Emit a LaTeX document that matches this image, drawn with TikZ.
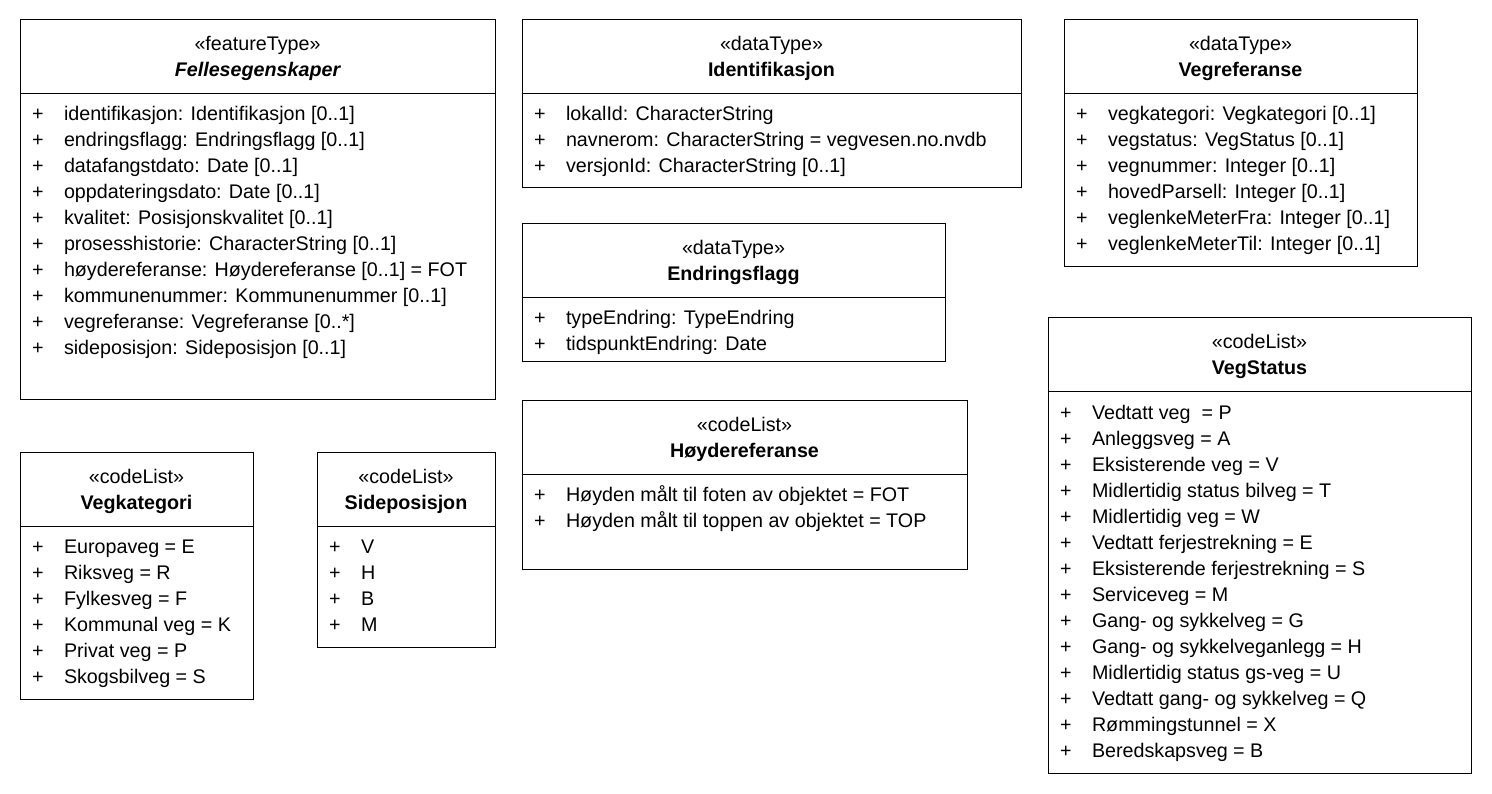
\documentclass[tikz,border=0pt]{standalone}
\usepackage{fontspec}
\setmainfont{Liberation Sans}
\newcommand{\fsz}{\fontsize{19.7}{24}\selectfont}
\newcommand{\umlbox}[8]{% name, x, y, w, h, stereotype, title, title font
  \node[box, anchor=north west, minimum width=#4pt, minimum height=#5pt] (#1) at (#2,#3) {};
  \draw[box] ([yshift=-74pt]#1.north west) -- ([yshift=-74pt]#1.north east);
  \node[anchor=base] (#1-st) at ([yshift=-31pt]#1.north) {«#6»};
  \node[anchor=base, font=#8] (#1-ti) at ([yshift=-57pt]#1.north) {#7};
}
\newcommand{\attr}[3]{% box, row, text
  \pgfmathsetmacro{\rowoff}{101+26*(#2-1)}
  \node[anchor=base west] (#1-p#2) at ([xshift=12pt,yshift=-\rowoff pt]#1.north west) {+};
  \node[anchor=base west] (#1-a#2) at ([xshift=44pt,yshift=-\rowoff pt]#1.north west) {#3};
}
\begin{document}
\begin{tikzpicture}[x=1pt,y=-1pt,
  every node/.style={inner sep=0pt, outer sep=0pt, font=\fsz},
  box/.style={draw=black, line width=1pt}]
\useasboundingbox[fill=white] (0,0) rectangle (1492,794);

% Fellesegenskaper
\umlbox{fe}{20}{20}{475}{379}{featureType}{Fellesegenskaper}{\fsz\bfseries\itshape}
\attr{fe}{1}{identifikasjon: Identifikasjon [0..1]}
\attr{fe}{2}{endringsflagg: Endringsflagg [0..1]}
\attr{fe}{3}{datafangstdato: Date [0..1]}
\attr{fe}{4}{oppdateringsdato: Date [0..1]}
\attr{fe}{5}{kvalitet: Posisjonskvalitet [0..1]}
\attr{fe}{6}{prosesshistorie: CharacterString [0..1]}
\attr{fe}{7}{høydereferanse: Høydereferanse [0..1] = FOT}
\attr{fe}{8}{kommunenummer: Kommunenummer [0..1]}
\attr{fe}{9}{vegreferanse: Vegreferanse [0..*]}
\attr{fe}{10}{sideposisjon: Sideposisjon [0..1]}

% Identifikasjon
\umlbox{id}{522}{20}{499}{168}{dataType}{Identifikasjon}{\fsz\bfseries}
\attr{id}{1}{lokalId: CharacterString}
\attr{id}{2}{navnerom: CharacterString = vegvesen.no.nvdb}
\attr{id}{3}{versjonId: CharacterString [0..1]}

% Endringsflagg
\umlbox{ef}{522}{224}{423}{138}{dataType}{Endringsflagg}{\fsz\bfseries}
\attr{ef}{1}{typeEndring: TypeEndring}
\attr{ef}{2}{tidspunktEndring: Date}

% Hoydereferanse
\umlbox{hr}{522}{400}{445}{169}{codeList}{Høydereferanse}{\fsz\bfseries}
\attr{hr}{1}{Høyden målt til foten av objektet = FOT}
\attr{hr}{2}{Høyden målt til toppen av objektet = TOP}

% Vegreferanse
\umlbox{vr}{1064}{20}{353}{247}{dataType}{Vegreferanse}{\fsz\bfseries}
\attr{vr}{1}{vegkategori: Vegkategori [0..1]}
\attr{vr}{2}{vegstatus: VegStatus [0..1]}
\attr{vr}{3}{vegnummer: Integer [0..1]}
\attr{vr}{4}{hovedParsell: Integer [0..1]}
\attr{vr}{5}{veglenkeMeterFra: Integer [0..1]}
\attr{vr}{6}{veglenkeMeterTil: Integer [0..1]}

% VegStatus
\umlbox{vs}{1048}{318}{423}{455}{codeList}{VegStatus}{\fsz\bfseries}
\attr{vs}{1}{Vedtatt veg~ = P}
\attr{vs}{2}{Anleggsveg = A}
\attr{vs}{3}{Eksisterende veg = V}
\attr{vs}{4}{Midlertidig status bilveg = T}
\attr{vs}{5}{Midlertidig veg = W}
\attr{vs}{6}{Vedtatt ferjestrekning = E}
\attr{vs}{7}{Eksisterende ferjestrekning = S}
\attr{vs}{8}{Serviceveg = M}
\attr{vs}{9}{Gang- og sykkelveg = G}
\attr{vs}{10}{Gang- og sykkelveganlegg = H}
\attr{vs}{11}{Midlertidig status gs-veg = U}
\attr{vs}{12}{Vedtatt gang- og sykkelveg = Q}
\attr{vs}{13}{Rømmingstunnel = X}
\attr{vs}{14}{Beredskapsveg = B}

% Vegkategori
\umlbox{vk}{20}{452}{233}{247}{codeList}{Vegkategori}{\fsz\bfseries}
\attr{vk}{1}{Europaveg = E}
\attr{vk}{2}{Riksveg = R}
\attr{vk}{3}{Fylkesveg = F}
\attr{vk}{4}{Kommunal veg = K}
\attr{vk}{5}{Privat veg = P}
\attr{vk}{6}{Skogsbilveg = S}

% Sideposisjon
\umlbox{sp}{317}{452}{178}{195}{codeList}{Sideposisjon}{\fsz\bfseries}
\attr{sp}{1}{V}
\attr{sp}{2}{H}
\attr{sp}{3}{B}
\attr{sp}{4}{M}
\end{tikzpicture}
\end{document}
